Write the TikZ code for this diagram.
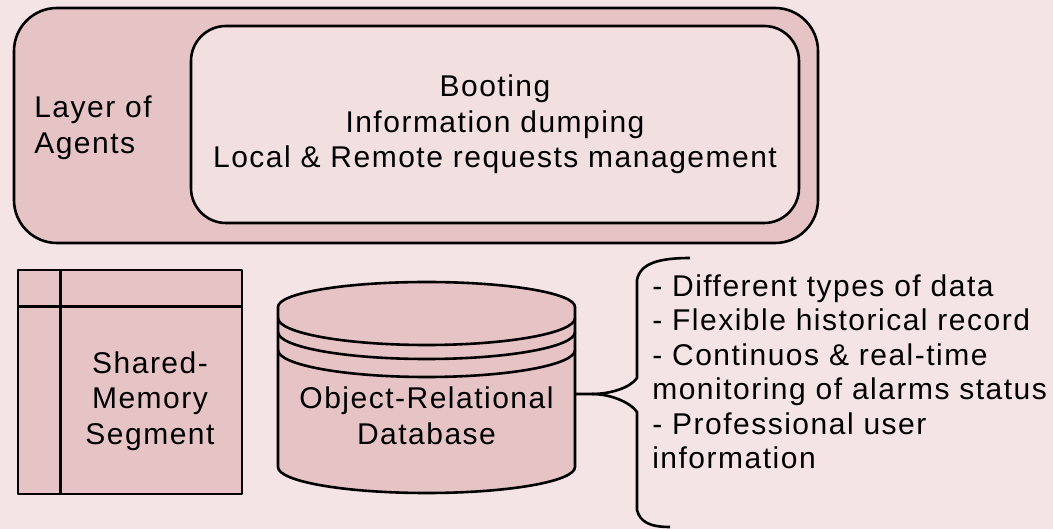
\documentclass[tikz,border=0pt]{standalone}
\usepackage{fontspec}
\setmainfont{Liberation Sans}[LetterSpace=5]
\usepackage{tikz}
\definecolor{lrose}{RGB}{230,196,197}
\definecolor{pale}{RGB}{242,224,225}
\definecolor{bgpink}{RGB}{244,228,229}

\begin{document}
\begin{tikzpicture}[x=1pt,y=-1pt,line width=2.6pt,line join=round,font=\fontsize{30}{35.5}\selectfont]
	\tikzstyle{box}=[draw=black,fill=lrose,inner sep=0pt]
	\tikzstyle{txt}=[inner sep=0pt,text=black]
	\fill [bgpink] (0,0) rectangle (1053,529);
	\useasboundingbox (0,0) rectangle (1053,529);
	\node [box,rounded corners=43pt,minimum width=804pt,minimum height=235pt] (layer) at (416,125.5) {};
	\node [txt,anchor=west,align=left] (agents) at (33,128) {Layer of\\Agents};
	\node [box,fill=pale,rounded corners=35pt,minimum width=608pt,minimum height=197pt,align=center] (tasks) at (495,124.5)
	  {Booting\\Information dumping\\Local \& Remote requests management};
	\node [box,minimum width=224pt,minimum height=224pt] (shm) at (130,382) {};
	\draw ([yshift=-38pt]shm.north west) -- ([yshift=-38pt]shm.north east);
	\draw ([xshift=44pt]shm.north west) -- ([xshift=44pt]shm.south west);
	\node [txt,align=center] (shmtxt) at (150,401) {Shared-\\Memory\\Segment};
	\filldraw [fill=lrose] (278,307) -- (278,467) .. controls (278,481.4) and (344.5,493) .. (426.5,493)
	  .. controls (508.5,493) and (575,481.4) .. (575,467) -- (575,307)
	  .. controls (575,293.2) and (508.5,282) .. (426.5,282) .. controls (344.5,282) and (278,293.2) .. (278,307) -- cycle;
	\foreach \y in {318,332,350}
	  \draw (278,\y) .. controls (278,\y+14.9) and (344.5,\y+27) .. (426.5,\y+27) .. controls (508.5,\y+27) and (575,\y+14.9) .. (575,\y);
	\node [txt,align=center] (db) at (426.5,416) {Object-Relational\\Database};
	\coordinate (dbport) at (575,394);
	\coordinate (tip) at (592,394);
	\draw (dbport) -- (tip) .. controls (610,394) and (630,388) .. (637,378) -- (637,280) .. controls (640,263) and (660,258) .. (690,258);
	\draw (tip) .. controls (610,394) and (630,402) .. (637,412) -- (637,510) .. controls (640,522) and (650,527) .. (670,527);
	\node [txt,anchor=west,align=left,font=\fontsize{30}{34.5}\selectfont] (notes) at (651,372) {- Different types of data\\- Flexible historical record\\- Continuos \& real-time\\monitoring of alarms status\\- Professional user\\information};
\end{tikzpicture}
\end{document}
